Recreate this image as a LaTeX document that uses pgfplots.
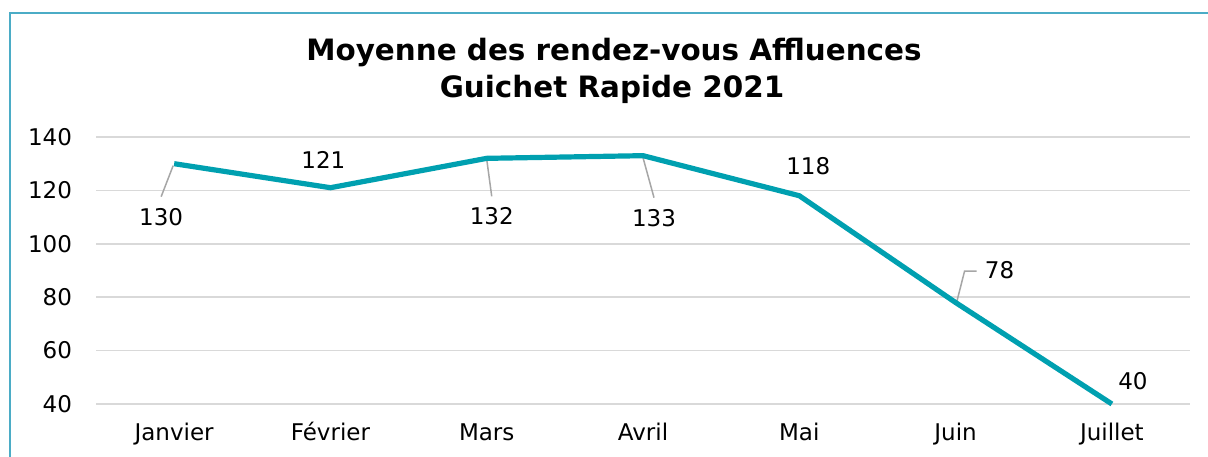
\documentclass[border=0pt]{standalone}
\usepackage{fontspec}
\setmainfont{DejaVu Sans}
\usepackage{pgfplots}
\pgfplotsset{compat=1.18}
\definecolor{linec}{RGB}{0,160,176}
\definecolor{framec}{RGB}{75,172,198}
\definecolor{gridc}{RGB}{217,217,217}
\definecolor{leadc}{RGB}{166,166,166}
\begin{document}
\begin{tikzpicture}[x=0.5bp,y=0.5bp]
\useasboundingbox (0,0) rectangle (1208,457);
\fill[white] (0,0) rectangle (1208,457);
\draw[framec, line width=1bp] (9.5,0) -- (9.5,444) -- (1208,444);
\node[font=\fontsize{14.7bp}{17bp}\selectfont\bfseries] at (614,404) {Moyenne des rendez-vous Affluences};
\node[font=\fontsize{14.7bp}{17bp}\selectfont\bfseries] at (612,368) {Guichet Rapide 2021};
\begin{axis}[
  at={(48bp,26.5bp)}, anchor=south west,
  scale only axis, width=547bp, height=133.5bp,
  xmin=-0.5, xmax=6.5, ymin=40, ymax=140,
  ytick={40,60,...,140}, xtick={0,...,6},
  xticklabels={Janvier,Février,Mars,Avril,Mai,Juin,Juillet},
  axis line style={draw=none}, major tick length=0pt,
  ymajorgrids, grid style={gridc, line width=0.75bp},
  tick label style={font=\fontsize{11.5bp}{13bp}\selectfont},
  yticklabel style={xshift=-8.5bp},
  xticklabel style={yshift=-7bp, text height=0.8em, text depth=0.25em},
  /pgf/number format/assume math mode=true,
  clip=false,
  point meta=explicit symbolic,
  nodes near coords,
]
\draw[leadc, line width=0.75bp] (axis cs:0,130) ++(-0.5bp,-1bp) -- ++(-6bp,-15.5bp);
\draw[leadc, line width=0.75bp] (axis cs:2,132) ++(0bp,-0.5bp) -- ++(2.5bp,-18.5bp);
\draw[leadc, line width=0.75bp] (axis cs:3,133) ++(0bp,-1bp) -- ++(5.5bp,-20bp);
\draw[leadc, line width=0.75bp] (axis cs:5,78) ++(0.5bp,0bp) -- ++(4bp,15.75bp) -- ++(6bp,0bp);
\addplot[linec, line width=2.6bp, line join=round, mark=none, nodes near coords=] coordinates {(0,130) (1,121) (2,132) (3,133) (4,118) (5,78) (6,40)};
\pgfplotsset{every node near coord/.style={anchor=center, font=\fontsize{11.5bp}{13bp}\selectfont}}
\addplot[draw=none, every node near coord/.append style={xshift=-6.5bp, yshift=-26.5bp}] coordinates {(0,130) [130]};
\addplot[draw=none, every node near coord/.append style={xshift=-3.5bp, yshift=14bp}] coordinates {(1,121) [121]};
\addplot[draw=none, every node near coord/.append style={xshift=2.5bp, yshift=-29bp}] coordinates {(2,132) [132]};
\addplot[draw=none, every node near coord/.append style={xshift=5.5bp, yshift=-31bp}] coordinates {(3,133) [133]};
\addplot[draw=none, every node near coord/.append style={xshift=4.5bp, yshift=15bp}] coordinates {(4,118) [118]};
\addplot[draw=none, every node near coord/.append style={xshift=22bp, yshift=16bp}] coordinates {(5,78) [78]};
\addplot[draw=none, every node near coord/.append style={xshift=10.5bp, yshift=11.5bp}] coordinates {(6,40) [40]};
\end{axis}
\end{tikzpicture}
\end{document}
